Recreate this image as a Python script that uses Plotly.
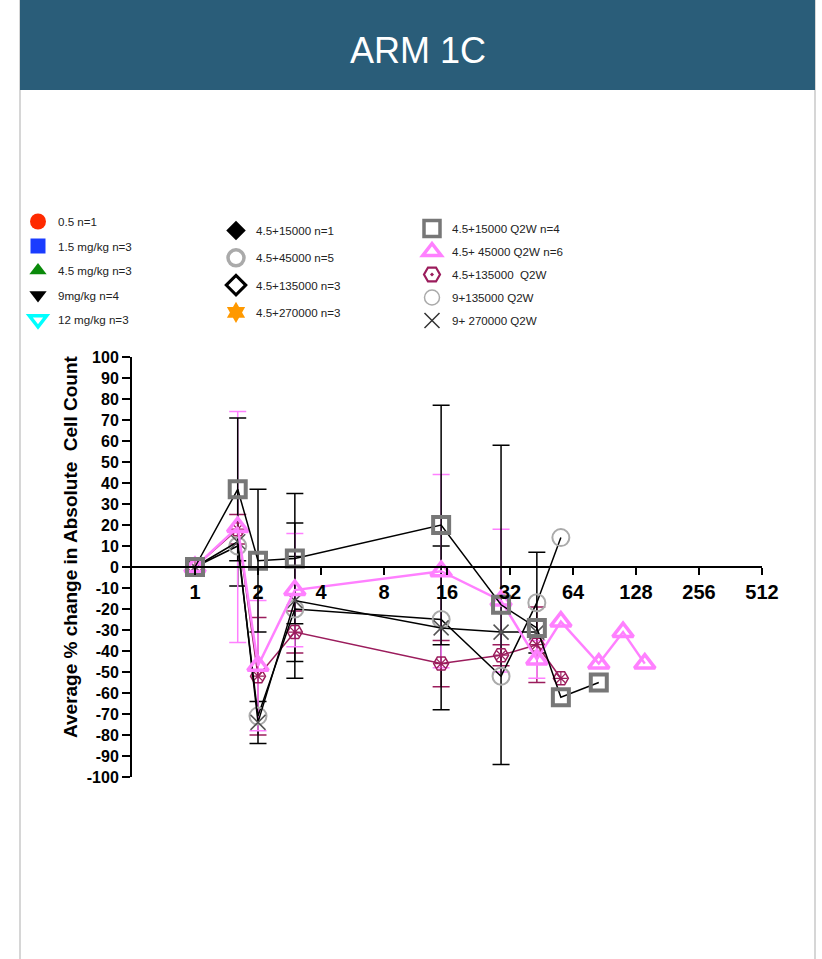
import plotly.graph_objects as go

# ---- data -------------------------------------------------------------
# Q2W cohorts (x = time point, y = mean % change, sd = error bar, None = no bar)
sq_x = [1, 1.6, 2, 3, 15, 29, 43, 56, 85]
sq_y = [0, 37, 3, 4, 20, -18, -29, -62, -55]
sq_sd = [None, 34, 34, 31, 57, 76, None, None, None]

tri_x = [1, 1.6, 2, 3, 15, 29, 43, 56, 85, 111, 141]
tri_y = [0, 19, -47, -11, -2, -16, -44, -26, -46, -31, -46]
tri_sd = [None, 55, 31, 27, 46, 34, 9, None, None, None, None]

hex_x = [1, 1.6, 2, 3, 15, 29, 43, 56]
hex_y = [0, 18, -52, -31, -46, -42, -37, -53]
hex_sd = [None, 7, 28, 10, 11, 5, 18, None]

circ_x = [1, 1.6, 2, 3, 15, 29, 43, 56]
circ_y = [0, 10, -71, -20, -25, -52, -17, 14]
circ_sd = [None, None, None, 25, None, None, 24, None]

cross_x = [1, 1.6, 2, 3, 15, 29, 43]
cross_y = [0, 12, -74, -16, -29, -31, -31]
cross_sd = [None, 21, 10, 37, 39, None, None]

x_ticks = [1, 2, 4, 8, 16, 32, 64, 128, 256, 512]
x_tick_labels = [str(v) for v in x_ticks]
y_ticks = list(range(100, -101, -10))
y_tick_labels = [str(v) for v in y_ticks]

legend_col1 = ["0.5 n=1", "1.5 mg/kg n=3", "4.5 mg/kg n=3", "9mg/kg n=4", "12 mg/kg n=3"]
legend_col2 = ["4.5+15000 n=1", "4.5+45000 n=5", "4.5+135000 n=3", "4.5+270000 n=3"]
legend_col3 = ["4.5+15000 Q2W n=4", "4.5+ 45000 Q2W n=6", "4.5+135000  Q2W",
               "9+135000 Q2W", "9+ 270000 Q2W"]

# ---- page geometry (pixels) -------------------------------------------
W, H = 822, 959
L, R, T, B = 132, 762, 357, 777


def px(x):
    return (x - L) / (R - L)


def py(y):
    return (B - y) / (B - T)


FONT = "Arial, Liberation Sans, sans-serif"
GRAY_SQ = "#777777"
PINK = "#ff80ff"
MAROON = "#9b1c5c"
LIGHT_GRAY = "#aaaaaa"
CROSS = "#555555"

fig = go.Figure()


def add_errors(xs, ys, sds, color):
    ex = [x for x, s in zip(xs, sds) if s is not None]
    ey = [y for y, s in zip(ys, sds) if s is not None]
    es = [s for s in sds if s is not None]
    fig.add_trace(go.Scatter(
        x=ex, y=ey, mode="markers", showlegend=False, hoverinfo="skip",
        marker=dict(size=1, color="rgba(0,0,0,0)"),
        error_y=dict(type="data", array=es, color=color, thickness=1.5, width=8.5),
    ))


# error bars underneath
add_errors(hex_x, hex_y, hex_sd, MAROON)
add_errors(circ_x, circ_y, circ_sd, "black")
add_errors(cross_x, cross_y, cross_sd, "black")
add_errors(tri_x, tri_y, tri_sd, PINK)
add_errors(sq_x, sq_y, sq_sd, "black")

# series lines + markers
fig.add_trace(go.Scatter(
    x=hex_x, y=hex_y, mode="lines+markers", showlegend=False,
    line=dict(color=MAROON, width=1.5),
    marker=dict(symbol="hexagon2-open", size=15, color=MAROON, line=dict(width=1.5, color=MAROON)),
))
# inner spokes of the hexagon symbol
fig.add_trace(go.Scatter(
    x=hex_x, y=hex_y, mode="markers", showlegend=False, hoverinfo="skip",
    marker=dict(symbol="asterisk-open", size=11, color=MAROON, line=dict(width=1.2, color=MAROON)),
))
fig.add_trace(go.Scatter(
    x=circ_x, y=circ_y, mode="lines+markers", showlegend=False,
    line=dict(color="black", width=1.5),
    marker=dict(symbol="circle-open", size=17, color=LIGHT_GRAY, line=dict(width=2, color=LIGHT_GRAY)),
))
fig.add_trace(go.Scatter(
    x=cross_x, y=cross_y, mode="lines+markers", showlegend=False,
    line=dict(color="black", width=1.5),
    marker=dict(symbol="x-thin-open", size=15, color=CROSS, line=dict(width=1.5, color=CROSS)),
))
fig.add_trace(go.Scatter(
    x=tri_x, y=tri_y, mode="lines+markers", showlegend=False,
    line=dict(color=PINK, width=2.5),
    marker=dict(symbol="triangle-up-open", size=18, color=PINK, line=dict(width=3.5, color=PINK)),
))
fig.add_trace(go.Scatter(
    x=sq_x, y=sq_y, mode="lines+markers", showlegend=False,
    line=dict(color="black", width=1.5),
    marker=dict(symbol="square-open", size=16, color=GRAY_SQ, line=dict(width=4, color=GRAY_SQ)),
))

# ---- legend entries ---------------------------------------------------
col1_styles = [
    dict(symbol="circle", size=16, color="#ff2a00"),
    dict(symbol="square", size=15, color="#1a3cff"),
    dict(symbol="triangle-up", size=15, color="#0a8a0a"),
    dict(symbol="triangle-down", size=15, color="black"),
    dict(symbol="triangle-down-open", size=15, color="#00ffff", line=dict(width=3.5, color="#00ffff")),
]
col2_styles = [
    dict(symbol="diamond", size=15, color="black"),
    dict(symbol="circle-open", size=16, color="#aaaaaa", line=dict(width=3.5, color="#aaaaaa")),
    dict(symbol="diamond-open", size=15, color="black", line=dict(width=3, color="black")),
    dict(symbol="hexagram", size=16, color="#ff9900"),
]
col3_styles = [
    dict(symbol="square-open", size=16, color=GRAY_SQ, line=dict(width=3.5, color=GRAY_SQ)),
    dict(symbol="triangle-up-open", size=16, color=PINK, line=dict(width=3.5, color=PINK)),
    dict(symbol="hexagon2-open-dot", size=16, color=MAROON, line=dict(width=2.2, color=MAROON)),
    dict(symbol="circle-open", size=15, color=LIGHT_GRAY, line=dict(width=1.5, color=LIGHT_GRAY)),
    dict(symbol="x-thin-open", size=15, color="#333333", line=dict(width=1.5, color="#333333")),
]

for lg, names, styles in (("legend", legend_col1, col1_styles),
                          ("legend2", legend_col2, col2_styles),
                          ("legend3", legend_col3, col3_styles)):
    for i, (name, st) in enumerate(zip(names, styles)):
        fig.add_trace(go.Scatter(
            x=[None], y=[None], mode="markers", name=name, legend=lg,
            legendgroup=f"{lg}-{i}", marker=st,
        ))

legend_common = dict(
    xanchor="left", yanchor="top", bgcolor="rgba(0,0,0,0)", borderwidth=0,
    font=dict(family=FONT, size=11.6, color="#222222"), traceorder="grouped",
    itemsizing="trace",
)

# ---- page frame -------------------------------------------------------
shapes = [
    dict(type="rect", xref="paper", yref="paper", x0=px(20), x1=px(815), y0=py(959), y1=py(90),
         fillcolor="white", line=dict(width=0), layer="below"),
    dict(type="line", xref="paper", yref="paper", x0=px(20), x1=px(20), y0=py(959), y1=py(0),
         line=dict(color="#c8c8c8", width=1.5)),
    dict(type="line", xref="paper", yref="paper", x0=px(815), x1=px(815), y0=py(959), y1=py(0),
         line=dict(color="#c8c8c8", width=1.5)),
    dict(type="rect", xref="paper", yref="paper", x0=px(20), x1=px(815), y0=py(90), y1=py(0),
         fillcolor="#2a5d79", line=dict(width=0), layer="above"),
]

annotations = [
    dict(text="ARM 1C", xref="paper", yref="paper", x=px(418), y=py(51),
         xanchor="center", yanchor="middle", showarrow=False,
         font=dict(family=FONT, size=36, color="white")),
    dict(text="<b>Average % change in Absolute  Cell Count</b>", xref="paper", yref="paper",
         x=px(70), y=py(547), xanchor="center", yanchor="middle", textangle=-90,
         showarrow=False, font=dict(family=FONT, size=19, color="black")),
]

fig.update_layout(
    width=W, height=H,
    margin=dict(l=L, r=W - R, t=T, b=H - B, autoexpand=False),
    paper_bgcolor="white", plot_bgcolor="rgba(0,0,0,0)",
    font=dict(family=FONT, color="black"),
    shapes=shapes, annotations=annotations,
    legend=dict(x=px(18), y=py(207), tracegroupgap=5.5, **legend_common),
    legend2=dict(x=px(216), y=py(216), tracegroupgap=8.3, **legend_common),
    legend3=dict(x=px(412), y=py(214), tracegroupgap=4, **legend_common),
    xaxis=dict(
        type="log", range=[-0.30103, 2.70927], tickvals=x_ticks, ticktext=x_tick_labels,
        anchor="free", position=0.5, showline=True, linecolor="black", linewidth=2,
        ticks="outside", ticklen=7, tickwidth=2, tickcolor="black",
        showgrid=False, zeroline=False,
        tickfont=dict(family=FONT, size=20, color="black", weight="bold"),
    ),
    yaxis=dict(
        range=[-100, 100], tickvals=y_ticks, ticktext=y_tick_labels,
        showline=True, linecolor="black", linewidth=2,
        ticks="outside", ticklen=8, tickwidth=2, tickcolor="black",
        showgrid=False, zeroline=False,
        tickfont=dict(family=FONT, size=16, color="black", weight="bold"),
    ),
)

fig.write_html("out.html")
